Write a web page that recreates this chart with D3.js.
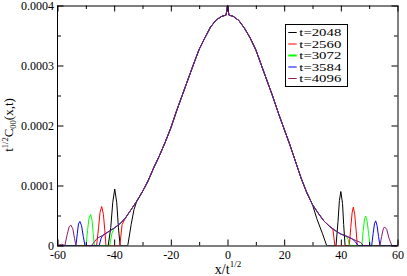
<!DOCTYPE html>
<html>
<head>
<meta charset="utf-8">
<script src="https://cdn.jsdelivr.net/npm/d3@7"></script>
<style>
  html, body { margin: 0; padding: 0; background: #fff; }
  svg { display: block; }
  text { font-family: "Liberation Serif", "Times New Roman", serif; fill: #000; }
</style>
</head>
<body>
<svg id="chart" width="407" height="276"></svg>
<script>
// ---------- DATA (y values in units of 1e-4) ----------
const times = [2048, 2560, 3072, 3584, 4096];
const colors = ["#000000", "#ff0000", "#00ff00", "#0000ff", "#8b1a6e"];

const xTickValues = [-60, -40, -20, 0, 20, 40, 60];
const xTickLabels = ["-60", "-40", "-20", "0", "20", "40", "60"];
const xMinorTicks = [-50, -30, -10, 10, 30, 50];
const yTickValues = [0, 1, 2, 3, 4];
const yTickLabels = ["0", "0.0001", "0.0002", "0.0003", "0.0004"];
const yMinorTicks = [0.5, 1.5, 2.5, 3.5];

// shared central curve
const mainX = [-46, -44, -42, -40, -38, -36, -34, -32, -30, -28, -26, -24, -22, -20, -18, -16, -14, -12, -10, -8, -6, -4, -2, -0.5, 0, 0.5, 2, 4, 6, 8, 10, 12, 14, 16, 18, 20, 22, 24, 26, 28, 30, 32, 34, 36, 38, 40, 42, 44, 46];
const mainY = [0.12, 0.17, 0.23, 0.29, 0.36, 0.46, 0.60, 0.74, 0.90, 1.08, 1.30, 1.50, 1.72, 1.96, 2.24, 2.50, 2.76, 3.02, 3.27, 3.46, 3.64, 3.76, 3.82, 3.84, 4.0, 3.84, 3.82, 3.75, 3.62, 3.46, 3.26, 3.00, 2.74, 2.48, 2.20, 1.94, 1.68, 1.40, 1.12, 0.88, 0.68, 0.54, 0.41, 0.32, 0.25, 0.19, 0.155, 0.11, 0.07];

// which part of the central curve each series keeps
const mainRange = [[-32, 30], [-36, 36], [-40, 42], [-44, 44], [-46, 46]];

// outer parts of each series (edge peak and drop)
const leftTail = [
  [[-60, 0], [-42.1, 0], [-41.2, 0.3], [-40.5, 0.72], [-39.8, 0.94], [-39.1, 0.72], [-38.5, 0.3], [-37.9, 0], [-35.2, 0], [-34, 0.35], [-33, 0.6]],
  [[-60, 0], [-46.2, 0], [-45.5, 0.3], [-45.0, 0.55], [-44.4, 0.65], [-43.8, 0.52], [-43.3, 0.25], [-42.9, 0], [-38, 0], [-37.2, 0.35]],
  [[-60, 0], [-49.9, 0], [-49.4, 0.25], [-48.9, 0.45], [-48.3, 0.52], [-47.8, 0.42], [-47.4, 0.2], [-47.0, 0], [-41.6, 0], [-40.8, 0.2]],
  [[-60, 0], [-53.5, 0], [-53.0, 0.2], [-52.6, 0.36], [-52.1, 0.40], [-51.5, 0.33], [-50.9, 0.15], [-50.3, 0], [-45.3, 0], [-44.6, 0.12]],
  [[-60, 0], [-58.5, 0.02], [-57.4, 0], [-56.6, 0.18], [-55.9, 0.31], [-55.3, 0.34], [-54.6, 0.28], [-54.0, 0.12], [-53.5, 0], [-48, 0], [-47, 0.06]]
];
const rightTail = [
  [[31.5, 0.45], [33.5, 0.2], [35, 0], [38.3, 0], [39.0, 0.4], [39.5, 0.75], [40.0, 0.9], [40.6, 0.7], [41.0, 0.35], [41.5, 0], [60, 0]],
  [[37.2, 0.27], [37.9, 0], [43.0, 0], [43.5, 0.3], [44.0, 0.55], [44.4, 0.64], [44.9, 0.52], [45.4, 0.25], [45.8, 0], [60, 0]],
  [[42.6, 0.1], [43, 0], [47.4, 0], [47.9, 0.25], [48.4, 0.45], [48.8, 0.49], [49.3, 0.4], [49.8, 0.2], [50.3, 0], [60, 0]],
  [[45.2, 0.06], [46, 0], [50.9, 0], [51.4, 0.2], [51.9, 0.37], [52.3, 0.41], [52.8, 0.33], [53.3, 0.15], [53.8, 0], [60, 0]],
  [[47, 0.05], [48, 0], [53.8, 0], [54.4, 0.15], [55.0, 0.28], [55.4, 0.31], [56.2, 0.27], [57.0, 0.12], [58.0, 0], [60, 0]]
];

// ---------- DRAWING ----------
const svg = d3.select("#chart");
const x = d3.scaleLinear().domain([-60, 60]).range([57.5, 397.5]);
const y = d3.scaleLinear().domain([0, 4]).range([245.5, 5.5]);

svg.append("defs").append("clipPath").attr("id", "plotclip")
  .append("rect").attr("x", x(-60)).attr("y", y(4)).attr("width", x(60) - x(-60)).attr("height", y(0) - y(4));

const line = d3.line().x(d => x(d[0])).y(d => y(d[1]));

const series = times.map((t, i) => {
  const mid = mainX.map((xv, k) => [xv, mainY[k]])
    .filter(p => p[0] >= mainRange[i][0] && p[0] <= mainRange[i][1]);
  return leftTail[i].concat(mid, rightTail[i]);
});

svg.append("g").attr("clip-path", "url(#plotclip)")
  .selectAll("path").data(series).join("path")
  .attr("d", line)
  .attr("fill", "none")
  .attr("stroke", (d, i) => colors[i])
  .attr("stroke-width", 1);

// axes
const fontTick = "12px";
const gB = svg.append("g").attr("transform", `translate(0,${y(0)})`)
  .call(d3.axisBottom(x).tickValues(xTickValues).tickFormat((d, i) => xTickLabels[i]).tickSizeInner(-6).tickSizeOuter(0).tickPadding(5));
const gBm = svg.append("g").attr("transform", `translate(0,${y(0)})`)
  .call(d3.axisBottom(x).tickValues(xMinorTicks).tickFormat("").tickSizeInner(-3.5).tickSizeOuter(0));
const gT = svg.append("g").attr("transform", `translate(0,${y(4)})`)
  .call(d3.axisTop(x).tickValues(xTickValues).tickFormat("").tickSizeInner(-6).tickSizeOuter(0));
const gTm = svg.append("g").attr("transform", `translate(0,${y(4)})`)
  .call(d3.axisTop(x).tickValues(xMinorTicks).tickFormat("").tickSizeInner(-3.5).tickSizeOuter(0));
const gL = svg.append("g").attr("transform", `translate(${x(-60)},0)`)
  .call(d3.axisLeft(y).tickValues(yTickValues).tickFormat((d, i) => yTickLabels[i]).tickSizeInner(-6).tickSizeOuter(0).tickPadding(3.5));
const gLm = svg.append("g").attr("transform", `translate(${x(-60)},0)`)
  .call(d3.axisLeft(y).tickValues(yMinorTicks).tickFormat("").tickSizeInner(-3.5).tickSizeOuter(0));
const gR = svg.append("g").attr("transform", `translate(${x(60)},0)`)
  .call(d3.axisRight(y).tickValues(yTickValues).tickFormat("").tickSizeInner(-6).tickSizeOuter(0));
const gRm = svg.append("g").attr("transform", `translate(${x(60)},0)`)
  .call(d3.axisRight(y).tickValues(yMinorTicks).tickFormat("").tickSizeInner(-3.5).tickSizeOuter(0));

[gB, gBm, gT, gTm, gL, gLm, gR, gRm].forEach(g => {
  g.select(".domain").remove();
  g.selectAll("line").attr("stroke", "#000").attr("stroke-width", 1);
  g.selectAll("text").attr("font-family", "Liberation Serif").attr("font-size", fontTick).attr("fill", "#000");
});

// frame
svg.append("rect")
  .attr("x", x(-60)).attr("y", y(4) + 0.5)
  .attr("width", x(60) - x(-60) + 0.5).attr("height", y(0) - y(4))
  .attr("fill", "none").attr("stroke", "#000").attr("stroke-width", 1);

// axis titles
const xt = svg.append("text").attr("x", 228).attr("y", 274).attr("text-anchor", "middle").attr("font-size", "14px");
xt.append("tspan").text("x/t");
xt.append("tspan").attr("font-size", "9px").attr("dy", "-7").text("1/2");

const yt = svg.append("text").attr("transform", "translate(13,125) rotate(-90)").attr("text-anchor", "middle").attr("font-size", "13px");
yt.append("tspan").text("t");
yt.append("tspan").attr("font-size", "8.5px").attr("dy", "-5").text("1/2");
yt.append("tspan").attr("dy", "5").text("C");
yt.append("tspan").attr("font-size", "8.5px").attr("dy", "3").text("00");
yt.append("tspan").attr("dy", "-3").text("(x,t)");

// legend
const lg = svg.append("g");
lg.append("rect").attr("x", 285.5).attr("y", 24.5).attr("width", 62).attr("height", 62)
  .attr("fill", "#fff").attr("stroke", "#000").attr("stroke-width", 1);
times.forEach((t, i) => {
  const cy = 32.5 + i * 11.5;
  lg.append("line").attr("x1", 288.3).attr("x2", 296.7).attr("y1", cy).attr("y2", cy)
    .attr("stroke", colors[i]).attr("stroke-width", i === 2 ? 2 : 1);
  lg.append("text").attr("x", 299.3).attr("y", cy).attr("dy", "0.35em")
    .attr("font-size", "11px").attr("textLength", 42).attr("lengthAdjust", "spacingAndGlyphs")
    .text("t=" + t);
});
</script>
</body>
</html>
